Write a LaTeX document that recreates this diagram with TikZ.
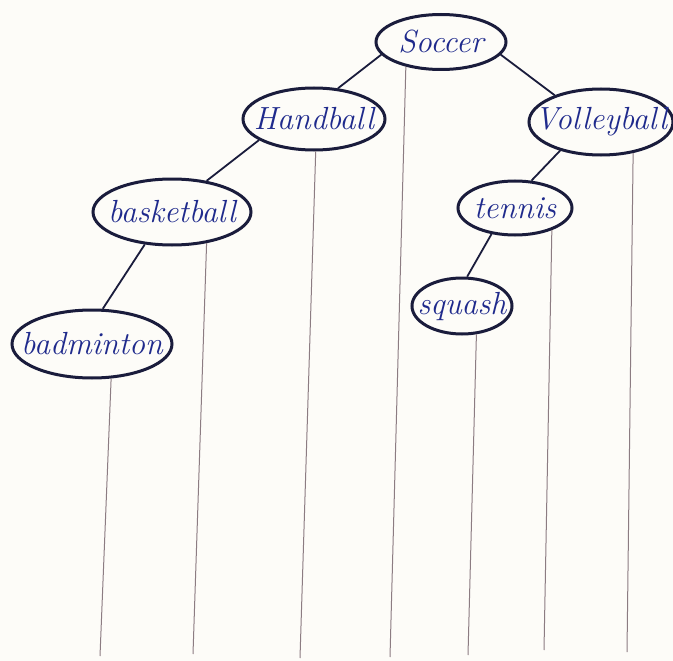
\documentclass[tikz,border=0pt]{standalone}
\usetikzlibrary{shapes.geometric}
\definecolor{ink}{HTML}{1A1C3C}
\definecolor{txt}{HTML}{1F2A8C}
\definecolor{pencil}{HTML}{8C7C82}
\definecolor{paper}{HTML}{FDFCF8}
\begin{document}
\begin{tikzpicture}[x=1pt,y=-1pt,
  oval/.style={ellipse,draw=ink,line width=3pt,inner sep=0pt},
  lbl/.style={text=txt,font=\fontsize{32}{36}\selectfont\itshape},
  edge/.style={draw=ink,line width=1.8pt},
  pen/.style={draw=pencil,line width=1pt}]
\fill[paper] (0,0) rectangle (673,661);
\useasboundingbox (0,0) rectangle (673,661);

\node[oval,minimum width=130pt,minimum height=55pt,label={[lbl]center:Soccer}] (soccer) at (441,42) {};
\node[oval,minimum width=142pt,minimum height=62pt,label={[lbl]center:Handball}] (handball) at (314,119) {};
\node[oval,minimum width=144pt,minimum height=66pt,label={[lbl]center:Volleyball}] (volleyball) at (601,122) {};
\node[oval,minimum width=158pt,minimum height=66pt,label={[lbl]center:basketball}] (basketball) at (172,212) {};
\node[oval,minimum width=114pt,minimum height=54pt,label={[lbl]center:tennis}] (tennis) at (515,208) {};
\node[oval,minimum width=100pt,minimum height=56pt,label={[lbl]center:squash}] (squash) at (462,306) {};
\node[oval,minimum width=160pt,minimum height=68pt,label={[lbl]center:badminton}] (badminton) at (92,344) {};

\draw[edge] (soccer.192) -- (handball.52);
\draw[edge] (soccer.348) -- (volleyball.150);
\draw[edge] (handball.201) -- (basketball.42);
\draw[edge] (basketball.230) -- (badminton.73);
\draw[edge] (volleyball.215) -- (tennis.59);
\draw[edge] (tennis.228) -- (squash.80);

\coordinate (e1) at (100,656);
\coordinate (e2) at (193,654);
\coordinate (e3) at (300,658);
\coordinate (e4) at (390,657);
\coordinate (e5) at (468,655);
\coordinate (e6) at (544,650);
\coordinate (e7) at (627,652);

\draw[pen] (badminton.299) -- (e1);
\draw[pen] (basketball.318) -- (e2);
\draw[pen] (handball.273) -- (e3);
\draw[pen] (soccer.215) -- (e4);
\draw[pen] (squash.297) -- (e5);
\draw[pen] (tennis.329) -- (e6);
\draw[pen] (volleyball.316) -- (e7);
\end{tikzpicture}
\end{document}
